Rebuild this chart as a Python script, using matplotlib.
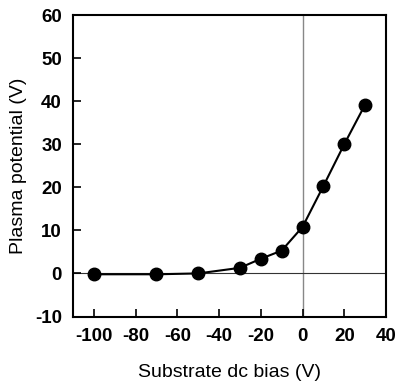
import matplotlib
matplotlib.use("Agg")
import matplotlib.pyplot as plt

bias = [-100, -70, -50, -30, -20, -10, 0, 10, 20, 30]
potential = [-0.2, -0.2, 0.0, 1.3, 3.4, 5.3, 10.8, 20.3, 30.0, 39.2]
xticks = [-100, -80, -60, -40, -20, 0, 20, 40]
yticks = [-10, 0, 10, 20, 30, 40, 50, 60]

plt.rcParams['font.family'] = ['Liberation Sans', 'DejaVu Sans']
plt.rcParams['axes.unicode_minus'] = False
fig = plt.figure(figsize=(3.98, 3.88), dpi=100)
ax = fig.add_axes([73/398, 1-316.5/388, (386-73)/398, (316.5-15)/388])
ax.axvline(0, color='#888888', lw=1.0, zorder=1)
ax.axhline(0, color='#333333', lw=0.8, zorder=1)
ax.plot(bias, potential, color='black', lw=1.5, marker='o', ms=9, zorder=3)
ax.set_xlim(-110, 40)
ax.set_ylim(-10, 60)
ax.set_xticks(xticks)
ax.set_yticks(yticks)
ax.tick_params(direction='in', length=6, width=1.2, labelsize=13.5, pad=8)
for lab in ax.get_xticklabels() + ax.get_yticklabels():
    lab.set_fontweight('bold')
for s in ax.spines.values():
    s.set_linewidth(1.5)
ax.set_xlabel('Substrate dc bias (V)', fontsize=14, labelpad=14)
ax.set_ylabel('Plasma potential (V)', fontsize=14, labelpad=6)
fig.savefig('out.png', dpi=100)
